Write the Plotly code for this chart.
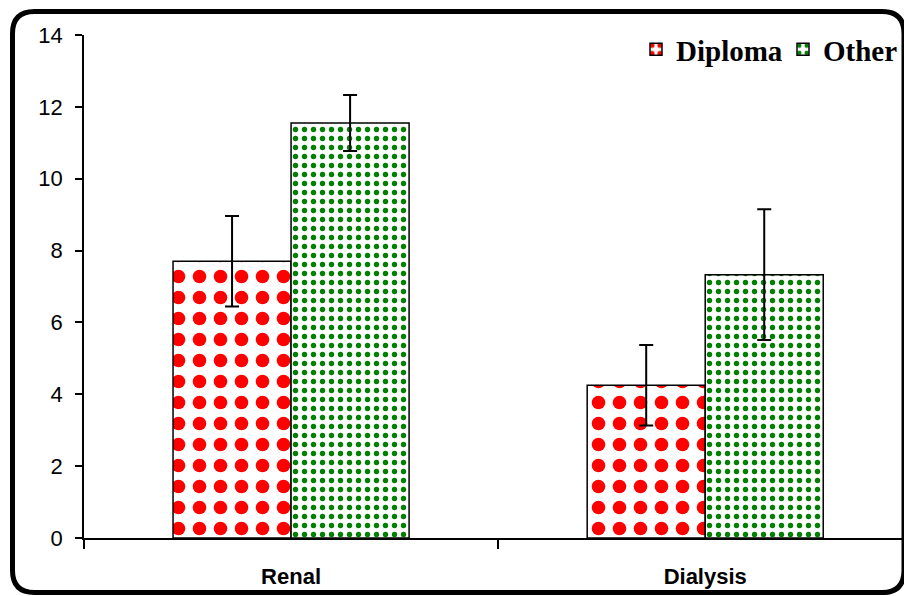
import plotly.graph_objects as go

categories = ["Renal", "Dialysis"]
diploma_vals = [7.7, 4.25]
diploma_err = [1.26, 1.12]
other_vals = [11.55, 7.33]
other_err = [0.78, 1.82]
series_names = ["Diploma", "Other"]
y_ticks = [0, 2, 4, 6, 8, 10, 12, 14]

W, H = 904, 596
L, R, T, B = 84, 0, 35, 58
PW, PH = W - L - R, H - T - B


def px(x):
    return (x - L) / PW


def py(y):
    return (H - B - y) / PH


fig = go.Figure()
fig.add_trace(go.Bar(
    name=series_names[0], x=categories, y=diploma_vals,
    error_y=dict(type="data", array=diploma_err, color="black", thickness=2, width=7),
    marker=dict(color="white", line=dict(color="black", width=1.5),
                pattern=dict(shape=".", fgcolor="#ff0000", bgcolor="white", fgopacity=1,
                             size=21, solidity=0.33, fillmode="overlay")),
))
fig.add_trace(go.Bar(
    name=series_names[1], x=categories, y=other_vals, legendwidth=76,
    error_y=dict(type="data", array=other_err, color="black", thickness=2, width=7),
    marker=dict(color="white", line=dict(color="black", width=1.5),
                pattern=dict(shape=".", fgcolor="#008000", bgcolor="white", fgopacity=1,
                             size=9, solidity=0.28, fillmode="overlay")),
))

# rounded frame
x0, y0, x1, y1, r = 12.5, 11.5, 904, 592.5, 22
path = (f"M {px(x0+r)},{py(y0)} L {px(x1-r)},{py(y0)} Q {px(x1)},{py(y0)} {px(x1)},{py(y0+r)} "
        f"L {px(x1)},{py(y1-r)} Q {px(x1)},{py(y1)} {px(x1-r)},{py(y1)} "
        f"L {px(x0+r)},{py(y1)} Q {px(x0)},{py(y1)} {px(x0)},{py(y1-r)} "
        f"L {px(x0)},{py(y0+r)} Q {px(x0)},{py(y0)} {px(x0+r)},{py(y0)} Z")
fig.add_shape(type="path", path=path, xref="paper", yref="paper",
              line=dict(color="black", width=5), layer="above")

fig.update_layout(
    width=W, height=H,
    margin=dict(l=L, r=R, t=T, b=B, pad=0),
    paper_bgcolor="white", plot_bgcolor="white",
    barmode="group", bargap=0.43, bargroupgap=0,
    showlegend=True,
    legend=dict(orientation="h", x=px(636), y=py(24), xanchor="left", yanchor="top",
                font=dict(family="Liberation Serif", size=29, color="black", weight="bold"),
                bgcolor="rgba(0,0,0,0)", borderwidth=0, traceorder="normal",
                itemwidth=30, entrywidth=102, entrywidthmode="pixels"),
    font=dict(family="Liberation Sans", color="black"),
)
fig.update_xaxes(
    type="category", range=[-0.5, 1.48], tickson="boundaries",
    ticks="outside", ticklen=9, tickwidth=1.5, tickcolor="black",
    showline=True, linecolor="black", linewidth=2,
    tickfont=dict(family="Liberation Sans", size=22, color="black", weight="bold"),
    ticklabelstandoff=18, showgrid=False, zeroline=False,
)
fig.update_yaxes(
    range=[0, 14], tickvals=y_ticks, ticks="outside", ticklen=7, tickwidth=1.5,
    tickcolor="black", showline=True, linecolor="black", linewidth=1.5,
    tickfont=dict(family="Liberation Sans", size=22, color="black"),
    ticklabelstandoff=8, showgrid=False, zeroline=False,
)

fig.write_html("out.html", config={"displayModeBar": False},
               post_script="document.body.style.margin='0';")
